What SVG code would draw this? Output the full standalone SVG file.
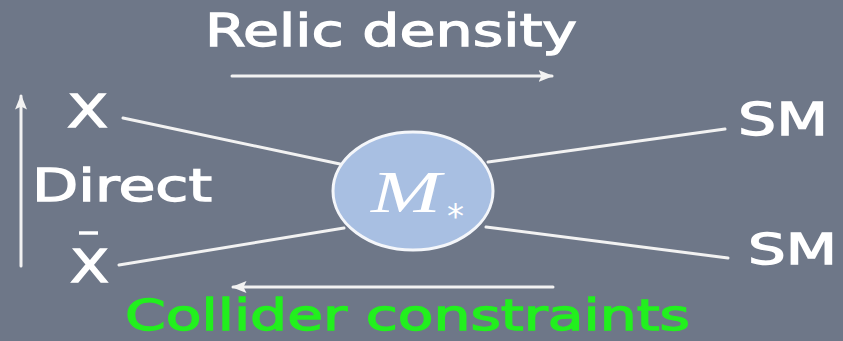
<svg xmlns="http://www.w3.org/2000/svg" width="843" height="341" viewBox="0 0 843 341">
<style>
.lbl{font-family:"DejaVu Sans","Liberation Sans",sans-serif;fill:#ffffff;stroke:#ffffff;stroke-width:1.3;}
.ln{stroke:#f2f2f2;stroke-width:3;fill:none;stroke-linecap:round;}
</style>
<defs>
<marker id="ah" viewBox="0 0 10 10" refX="9" refY="5" markerWidth="5" markerHeight="5" orient="auto" markerUnits="strokeWidth">
<path d="M0,1 L10,5 L0,9 L2,5 Z" fill="#f2f2f2"/>
</marker>
</defs>
<rect width="843" height="341" fill="#6e7788"/>
<g id="connectors">
<line class="ln" x1="123" y1="118" x2="340" y2="164"/>
<line class="ln" x1="119" y1="265" x2="344" y2="228"/>
<line class="ln" x1="488" y1="162" x2="725" y2="129"/>
<line class="ln" x1="486" y1="227" x2="728" y2="258"/>
<line class="ln" x1="232" y1="76" x2="552" y2="76" marker-end="url(#ah)"/>
<line class="ln" x1="553" y1="287" x2="233" y2="287" marker-end="url(#ah)"/>
<line class="ln" x1="21" y1="266" x2="21" y2="96" marker-end="url(#ah)"/>
</g>
<g id="relic"><text class="lbl" x="205" y="46" font-size="45" textLength="372" lengthAdjust="spacingAndGlyphs">Relic density</text></g>
<g id="collider"><text x="125" y="330" font-family="DejaVu Sans,sans-serif" font-size="42" fill="#22f01e" stroke="#22f01e" stroke-width="1.3" textLength="565" lengthAdjust="spacingAndGlyphs">Collider constraints</text></g>
<g id="direct"><text class="lbl" x="32" y="201" font-size="44" textLength="180" lengthAdjust="spacingAndGlyphs">Direct</text></g>
<g id="x"><text class="lbl" x="67" y="127" font-size="44" textLength="41" lengthAdjust="spacingAndGlyphs">X</text></g>
<g id="xbar"><text class="lbl" x="70" y="282" font-size="44" textLength="39" lengthAdjust="spacingAndGlyphs">X</text><line x1="79" y1="233" x2="98" y2="233" stroke="#fff" stroke-width="3.5"/></g>
<g id="sm1"><text class="lbl" x="738" y="135" font-size="44" textLength="90" lengthAdjust="spacingAndGlyphs">SM</text></g>
<g id="sm2"><text class="lbl" x="748" y="264" font-size="42" textLength="89" lengthAdjust="spacingAndGlyphs">SM</text></g>
<g id="mstar">
<ellipse cx="413" cy="191" rx="80" ry="59" fill="#a8bfe2" stroke="#f4f6fa" stroke-width="3"/>
<text x="371" y="212" font-family="Liberation Serif,serif" font-style="italic" font-size="60" fill="#ffffff" textLength="70" lengthAdjust="spacingAndGlyphs">M</text>
<text x="447" y="228" font-family="DejaVu Sans,sans-serif" font-size="34" fill="#ffffff">*</text>
</g>
</svg>
